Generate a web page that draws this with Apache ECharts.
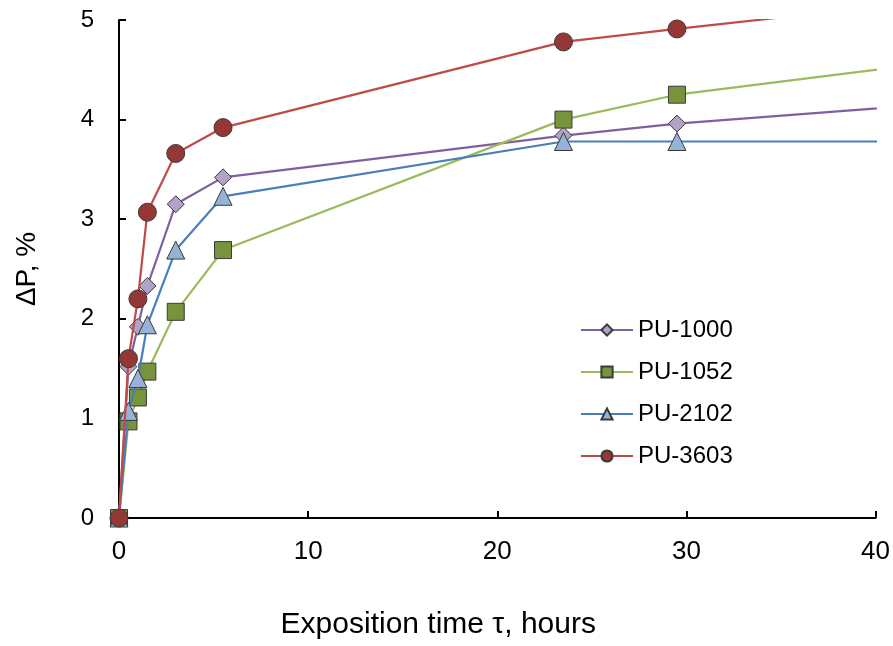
<!DOCTYPE html>
<html>
<head>
<meta charset="utf-8">
<script src="https://cdn.jsdelivr.net/npm/echarts@6/dist/echarts.min.js"></script>
<style>html,body{margin:0;padding:0;background:#fff;}#c{width:893px;height:646px;}</style>
</head>
<body>
<div id="c"></div>
<script>
// Data (time in hours, ΔP in %)
const seriesNames = ['PU-1000', 'PU-1052', 'PU-2102', 'PU-3603'];
const timeHours = [0, 0.5, 1, 1.5, 3, 5.5, 23.5, 29.5, 47.5];
const pu1000 = [0, 1.52, 1.92, 2.33, 3.15, 3.42, 3.84, 3.96, 4.22];
const pu1052 = [0, 0.97, 1.21, 1.47, 2.07, 2.69, 4.0, 4.25, 4.68];
const pu2102 = [0, 1.07, 1.40, 1.94, 2.69, 3.23, 3.78, 3.78, 3.78];
const pu3603 = [0, 1.60, 2.20, 3.07, 3.66, 3.92, 4.78, 4.91, 5.29];
const xTicks = [0, 10, 20, 30, 40];
const yTicks = [0, 1, 2, 3, 4, 5];

const styles = [
  {line: '#7D60A0', fill: '#B3A2C7', symbol: 'diamond', size: 17},
  {line: '#9BBB59', fill: '#77933C', symbol: 'rect', size: 17},
  {line: '#4A7EBB', fill: '#95B3D7', symbol: 'triangle', size: 18},
  {line: '#BE4B48', fill: '#953735', symbol: 'circle', size: 18}
];
const values = [pu1000, pu1052, pu2102, pu3603];
const lastIdx = timeHours.length - 1;

const series = seriesNames.map((name, i) => ({
  name: name,
  type: 'line',
  clip: true,
  symbol: styles[i].symbol,
  symbolSize: styles[i].size,
  showAllSymbol: true,
  z: 2 + i,
  lineStyle: {color: styles[i].line, width: 2.2},
  itemStyle: {color: styles[i].fill, borderColor: '#3a3a3a', borderWidth: 1},
  emphasis: {disabled: true},
  data: timeHours.map((t, k) => k === lastIdx
    ? {value: [t, values[i][k]], symbol: 'none'}
    : [t, values[i][k]])
}));

const chart = echarts.init(document.getElementById('c'), null, {renderer: 'canvas'});
chart.setOption({
  animation: false,
  backgroundColor: '#ffffff',
  grid: {left: 119, right: 16, top: 20, bottom: 128, containLabel: false},
  legend: {
    orient: 'vertical',
    left: 580, top: 318,
    padding: 0,
    itemGap: 18,
    itemWidth: 52, itemHeight: 14,
    textStyle: {fontFamily: 'Liberation Sans', fontSize: 24, color: '#000'},
    data: seriesNames
  },
  xAxis: {
    type: 'value', min: xTicks[0], max: xTicks[xTicks.length - 1], interval: 10,
    name: 'Exposition time τ, hours', nameLocation: 'middle', nameGap: 92,
    nameTextStyle: {fontFamily: 'Liberation Sans', fontSize: 30, color: '#000', padding: [0, 118, 0, 0]},
    axisLine: {show: true, onZero: false, lineStyle: {color: '#000', width: 2}},
    axisTick: {show: true, inside: true, length: 7, lineStyle: {color: '#000', width: 2}},
    axisLabel: {fontFamily: 'Liberation Sans', fontSize: 26, color: '#000', margin: 21},
    splitLine: {show: false}
  },
  yAxis: {
    type: 'value', min: yTicks[0], max: yTicks[yTicks.length - 1], interval: 1,
    name: 'ΔP, %', nameLocation: 'middle', nameGap: 78,
    nameTextStyle: {fontFamily: 'Liberation Sans', fontSize: 28, color: '#000'},
    axisLine: {show: true, onZero: false, lineStyle: {color: '#000', width: 2}},
    axisTick: {show: true, inside: true, length: 7, lineStyle: {color: '#000', width: 2}},
    axisLabel: {fontFamily: 'Liberation Sans', fontSize: 24, color: '#000', margin: 25},
    splitLine: {show: false}
  },
  series: series
});
</script>
</body>
</html>
